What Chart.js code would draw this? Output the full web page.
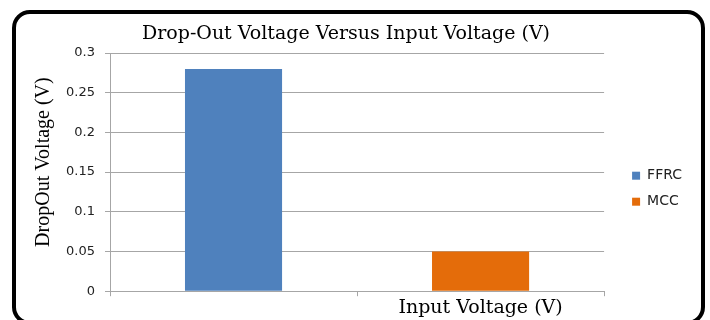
<!DOCTYPE html>
<html>
<head>
<meta charset="utf-8">
<script src="https://cdn.jsdelivr.net/npm/chart.js@4"></script>
<style>
  html, body { margin: 0; padding: 0; background: #fff; }
  #wrap { position: relative; width: 710px; height: 320px; overflow: hidden; }
  #frame { position: absolute; left: 12px; top: 10px; width: 693px; height: 315px;
           box-sizing: border-box; border: 4px solid #000; border-radius: 18px; }
  #myChart { position: absolute; left: 0; top: 0; }
</style>
</head>
<body>
<div id="wrap">
  <div id="frame"></div>
  <canvas id="myChart" width="710" height="320"></canvas>
</div>
<script>
// data
const categories = ['', 'Input Voltage (V)'];
const ffrcValues = [0.28, null];
const mccValues = [null, 0.05];
const yMax = 0.3;
const yStep = 0.05;

const serif = "'Liberation Serif', 'Times New Roman', serif";
const wideSerif = "'DejaVu Serif', serif";
const sans = "'DejaVu Sans', Arial, sans-serif";
const gridGray = '#A6A6A6';

const data = {
  labels: categories,
  datasets: [
    { label: 'FFRC', data: ffrcValues, backgroundColor: '#4F81BD' },
    { label: 'MCC', data: mccValues, backgroundColor: '#E46C0A' }
  ]
};

// config
const config = {
  type: 'bar',
  data,
  options: {
    responsive: false,
    animation: false,
    grouped: false,
    categoryPercentage: 1,
    barPercentage: 0.393,
    layout: { padding: { left: 0, right: 18, top: 0, bottom: 1 } },
    plugins: {
      title: {
        display: true,
        text: 'Drop-Out Voltage Versus Input Voltage (V)',
        color: '#000',
        font: { family: wideSerif, size: 19, weight: 'normal' },
        padding: { top: 22.6, bottom: 7.6 }
      },
      legend: {
        position: 'right',
        title: { display: true, text: ' ', font: { size: 12 }, padding: { top: 0, bottom: 44 } },
        labels: {
          boxWidth: 8, boxHeight: 8, padding: 12,
          color: '#222', font: { family: sans, size: 14 }
        }
      },
      tooltip: { enabled: false }
    },
    scales: {
      x: {
        grid: { drawOnChartArea: false, drawTicks: true, tickLength: 5, color: gridGray },
        border: { color: gridGray },
        ticks: { color: '#000', font: { family: wideSerif, size: 19 }, padding: 0 }
      },
      y: {
        min: 0,
        max: yMax,
        afterFit: s => { s.width = 110; },
        grid: { color: gridGray, tickLength: 5 },
        border: { color: gridGray },
        ticks: {
          stepSize: yStep,
          color: '#222',
          font: { family: sans, size: 13 },
          padding: 10,
          callback: v => +v.toFixed(2)
        },
        title: {
          display: true,
          text: '    DropOut Voltage (V)',
          color: '#000',
          font: { family: serif, size: 20, weight: 'normal' },
          padding: { top: 32, bottom: 0 }
        }
      },
      // empty space between plot and legend
      gap: {
        type: 'linear',
        position: 'right',
        afterFit: s => { s.width = 16; },
        grid: { display: false },
        border: { display: false },
        ticks: { display: false }
      }
    }
  }
};

// render init block
const myChart = new Chart(document.getElementById('myChart'), config);
</script>
</body>
</html>
